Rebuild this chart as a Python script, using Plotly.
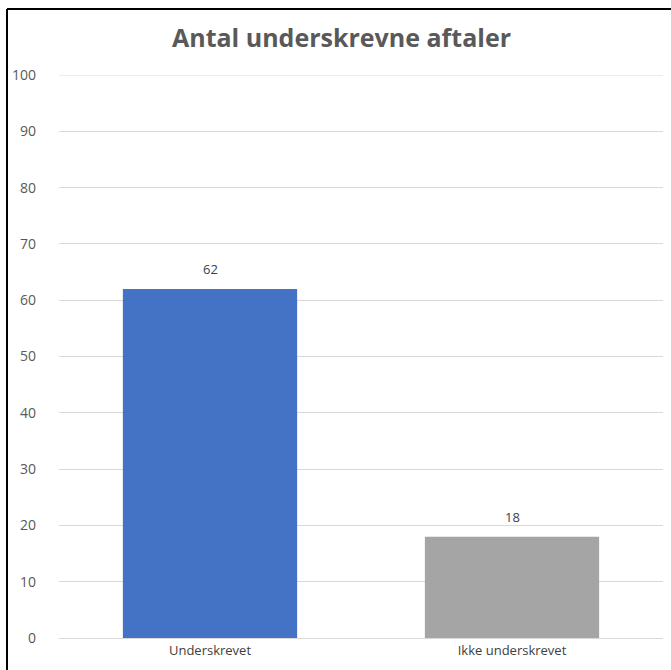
import plotly.graph_objects as go

categories = ["Underskrevet", "Ikke underskrevet"]
values = [62, 18]
colors = ["#4472C4", "#A5A5A5"]
tick_vals = [0, 10, 20, 30, 40, 50, 60, 70, 80, 90, 100]

fig = go.Figure(go.Bar(
    x=categories, y=values, marker_color=colors,
    marker_line_width=0,
))

for c, v in zip(categories, values):
    fig.add_annotation(x=c, y=v, text=str(v), showarrow=False, yanchor="middle", yshift=20,
                       font=dict(family="Open Sans", size=13, color="#404040"))

W, H = 671, 670
ml, mr, mt, mb = 59, 8, 75, 32
pw, ph = W - ml - mr, H - mt - mb

fig.update_layout(
    width=W, height=H,
    margin=dict(l=ml, r=mr, t=mt, b=mb),
    plot_bgcolor="white", paper_bgcolor="white",
    bargap=0.423,
    showlegend=False,
    title=dict(text="<b>Antal underskrevne aftaler</b>", x=341.5 / W, xanchor="center",
               y=1 - 38 / H, yanchor="middle",
               font=dict(family="Open Sans", size=25, color="#595959")),
    yaxis=dict(range=[0, tick_vals[-1]], tickvals=tick_vals, showgrid=True, gridcolor="#D9D9D9",
               gridwidth=1, zeroline=False, showline=False,
               tickfont=dict(family="Open Sans", size=14, color="#595959"),
               ticklabelstandoff=22),
    xaxis=dict(showline=True, linecolor="#D9D9D9", linewidth=1,
               tickfont=dict(family="Open Sans", size=13, color="#404040")),
)

# top gridline (at the edge of the plot area)
fig.add_shape(type="line", xref="paper", yref="y", x0=0, x1=1, y0=tick_vals[-1], y1=tick_vals[-1],
              line=dict(color="#D9D9D9", width=1), layer="below")

# outer frame: only left and top edges are visible in the crop
xl = (7 - ml) / pw
yt = (H - mb - 9) / ph
fig.add_shape(type="line", xref="paper", yref="paper", x0=xl, x1=xl, y0=yt, y1=-0.2,
              line=dict(color="#000000", width=2), layer="above")
fig.add_shape(type="line", xref="paper", yref="paper", x0=xl, x1=1.1, y0=yt, y1=yt,
              line=dict(color="#000000", width=2), layer="above")

fig.write_html("out.html", config={"displayModeBar": False},
               post_script="document.body.style.margin='0';document.body.style.overflow='hidden';")
